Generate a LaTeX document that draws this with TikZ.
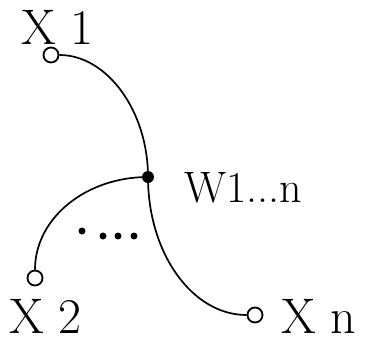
\documentclass[tikz,border=0pt]{standalone}
\begin{document}
\begin{tikzpicture}[x=1pt,y=-1pt,
  wire/.style={line width=1.7pt},
  ocirc/.style={circle,draw,line width=1.8pt,fill=white,minimum size=15pt,inner sep=0pt},
  fcirc/.style={circle,fill=black,minimum size=12pt,inner sep=0pt},
  dotc/.style={circle,fill=black,minimum size=7pt,inner sep=0pt},
  lbl/.style={inner sep=0pt,anchor=base west,font=\fontsize{50}{54}\selectfont},
  wlbl/.style={inner sep=0pt,anchor=base west,font=\fontsize{44}{48}\selectfont}]
\useasboundingbox (0,0) rectangle (366,341);
\coordinate (w) at (148,177);
\node[ocirc] (x1) at (51,55) {};
\node[ocirc] (x2) at (35,278) {};
\node[ocirc] (xn) at (255,315) {};
\draw[wire] (x1) .. controls (107,55) and (148,111) .. (w);
\draw[wire] (w) .. controls (86,177) and (35,218) .. (x2);
\draw[wire] (w) .. controls (148,253) and (192,315) .. (xn);
\node[fcirc] (wd) at (w) {};
\node[dotc] (d0) at (82,231) {};
\node[dotc] (d1) at (103,236) {};
\node[dotc] (d2) at (118,236) {};
\node[dotc] (d3) at (134,236) {};
\node[lbl] (t1) at (21,44) {X 1};
\node[lbl] (t2) at (9,333) {X 2};
\node[lbl] (tn) at (281,333) {X n};
\node[wlbl] (tw) at (184,202) {W1...n};
\end{tikzpicture}
\end{document}
